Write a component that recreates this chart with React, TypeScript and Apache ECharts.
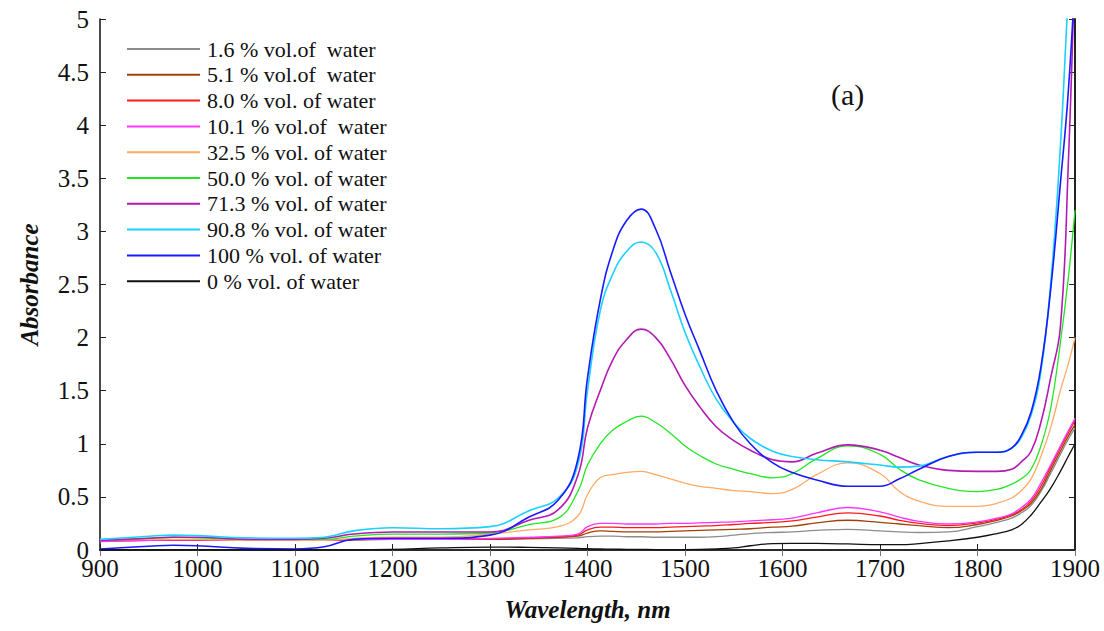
import { useEffect, useRef } from "react";
import * as echarts from "echarts";

const wavelengths = [900, 950, 975, 1000, 1050, 1100, 1130, 1160, 1200, 1250, 1300, 1340, 1370, 1390, 1400, 1413, 1426, 1440, 1455, 1470, 1485, 1500, 1515, 1532, 1550, 1567, 1590, 1610, 1635, 1667, 1700, 1720, 1740, 1770, 1800, 1820, 1835, 1845, 1855, 1865, 1875, 1885, 1893, 1900];

const seriesNames = [
  "1.6 % vol.of  water",
  "5.1 % vol.of  water",
  "8.0 % vol. of water",
  "10.1 % vol.of  water",
  "32.5 % vol. of water",
  "50.0 % vol. of water",
  "71.3 % vol. of water",
  "90.8 % vol. of water",
  "100 % vol. of water",
  "0 % vol. of water",
];

const seriesColors = ["#8c8c8c", "#a0400a", "#ff1a1a", "#ff33ff", "#ffaa66", "#22e622", "#b31ab3", "#1ad1ff", "#1a1aff", "#111111"];

const water1_6 = [0.085, 0.09, 0.09, 0.09, 0.09, 0.09, 0.09, 0.095, 0.1, 0.1, 0.1, 0.105, 0.11, 0.115, 0.125, 0.13, 0.13, 0.125, 0.125, 0.12, 0.12, 0.12, 0.12, 0.125, 0.14, 0.155, 0.165, 0.17, 0.185, 0.195, 0.18, 0.17, 0.165, 0.17, 0.22, 0.26, 0.3, 0.35, 0.42, 0.55, 0.72, 0.9, 1.04, 1.15];
const water5_1 = [0.085, 0.09, 0.09, 0.09, 0.09, 0.09, 0.09, 0.095, 0.1, 0.1, 0.1, 0.11, 0.12, 0.13, 0.16, 0.18, 0.175, 0.17, 0.17, 0.17, 0.175, 0.18, 0.185, 0.19, 0.195, 0.2, 0.215, 0.225, 0.255, 0.28, 0.26, 0.245, 0.23, 0.21, 0.24, 0.28, 0.32, 0.37, 0.44, 0.57, 0.75, 0.93, 1.07, 1.18];
const water8_0 = [0.085, 0.09, 0.09, 0.09, 0.09, 0.09, 0.09, 0.1, 0.1, 0.1, 0.105, 0.115, 0.125, 0.14, 0.19, 0.215, 0.215, 0.21, 0.21, 0.21, 0.215, 0.22, 0.225, 0.23, 0.24, 0.25, 0.26, 0.275, 0.31, 0.35, 0.32, 0.28, 0.25, 0.23, 0.255, 0.29, 0.33, 0.38, 0.46, 0.6, 0.78, 0.96, 1.1, 1.22];
const water10_1 = [0.08, 0.09, 0.095, 0.095, 0.09, 0.09, 0.09, 0.1, 0.1, 0.1, 0.11, 0.12, 0.13, 0.15, 0.22, 0.25, 0.25, 0.245, 0.245, 0.245, 0.25, 0.25, 0.255, 0.26, 0.265, 0.275, 0.285, 0.3, 0.35, 0.4, 0.36, 0.31, 0.27, 0.245, 0.265, 0.3, 0.34, 0.4, 0.48, 0.63, 0.8, 0.98, 1.12, 1.24];
const water32_5 = [0.09, 0.1, 0.1, 0.1, 0.09, 0.09, 0.09, 0.11, 0.12, 0.12, 0.15, 0.19, 0.22, 0.32, 0.52, 0.68, 0.71, 0.73, 0.74, 0.71, 0.67, 0.63, 0.6, 0.58, 0.56, 0.55, 0.53, 0.57, 0.71, 0.82, 0.72, 0.55, 0.46, 0.41, 0.41, 0.44, 0.49, 0.56, 0.67, 0.88, 1.15, 1.5, 1.75, 2.0];
const water50_0 = [0.09, 0.11, 0.12, 0.115, 0.1, 0.1, 0.1, 0.13, 0.15, 0.15, 0.16, 0.24, 0.3, 0.55, 0.8, 1.0, 1.13, 1.21, 1.26, 1.2, 1.1, 0.98, 0.89, 0.81, 0.76, 0.72, 0.68, 0.72, 0.86, 0.98, 0.9, 0.76, 0.66, 0.58, 0.55, 0.57, 0.62, 0.67, 0.76, 0.98, 1.33, 1.95, 2.55, 3.2];
const water71_3 = [0.09, 0.11, 0.12, 0.12, 0.1, 0.1, 0.11, 0.15, 0.17, 0.17, 0.17, 0.28, 0.38, 0.7, 1.15, 1.5, 1.79, 1.98, 2.08, 2.0, 1.8, 1.55, 1.35, 1.16, 1.03, 0.94, 0.85, 0.83, 0.91, 0.99, 0.94, 0.87, 0.8, 0.75, 0.74, 0.74, 0.76, 0.83, 0.93, 1.2, 1.62, 2.1, 3.6, 5.6];
const water90_8 = [0.1, 0.13, 0.14, 0.135, 0.115, 0.11, 0.12, 0.18, 0.21, 0.2, 0.22, 0.37, 0.49, 0.8, 1.5, 2.25, 2.6, 2.81, 2.9, 2.8, 2.45, 2.05, 1.73, 1.42, 1.2, 1.05, 0.93, 0.88, 0.85, 0.83, 0.8, 0.78, 0.79, 0.88, 0.92, 0.92, 0.96, 1.06, 1.27, 1.68, 2.5, 3.8, 5.2, 6.2];
const water100 = [0.01, 0.035, 0.045, 0.04, 0.015, 0.01, 0.03, 0.1, 0.11, 0.11, 0.14, 0.31, 0.47, 0.85, 1.62, 2.35, 2.82, 3.1, 3.21, 3.02, 2.62, 2.22, 1.88, 1.5, 1.2, 1.0, 0.82, 0.73, 0.66, 0.6, 0.6, 0.67, 0.76, 0.88, 0.92, 0.92, 0.96, 1.08, 1.3, 1.72, 2.45, 3.45, 4.3, 5.4];
const water0 = [0, 0, 0, 0, 0, 0, 0, 0, 0.005, 0.02, 0.028, 0.025, 0.02, 0.015, 0.012, 0.01, 0.008, 0.006, 0.005, 0.004, 0.004, 0.004, 0.005, 0.01, 0.02, 0.04, 0.06, 0.063, 0.062, 0.057, 0.05, 0.05, 0.06, 0.085, 0.12, 0.155, 0.19, 0.24, 0.33, 0.45, 0.58, 0.74, 0.88, 1.0];

const seriesValues = [water1_6, water5_1, water8_0, water10_1, water32_5, water50_0, water71_3, water90_8, water100, water0];

const FONT = "'Liberation Serif', 'Times New Roman', Times, serif";

export default function App() {
  const ref = useRef<HTMLDivElement>(null);
  useEffect(() => {
    const chart = echarts.init(ref.current!, null, { renderer: "svg" });
    const tickStyle = { show: true, inside: true, length: 6, lineStyle: { color: "#222", width: 1 } };
    chart.setOption({
      animation: false,
      backgroundColor: "#ffffff",
      textStyle: { fontFamily: FONT },
      grid: { left: 100, right: 29, top: 19, bottom: 81, containLabel: false },
      legend: {
        orient: "vertical",
        left: 127,
        top: 38,
        padding: 0,
        icon: "rect",
        itemWidth: 73,
        itemHeight: 2,
        itemGap: 3.8,
        data: seriesNames,
        textStyle: { fontFamily: FONT, fontSize: 22, color: "#111", lineHeight: 22, padding: [0, 0, 0, 2] },
      },
      xAxis: [
        {
          type: "value",
          min: 900,
          max: 1900,
          interval: 100,
          name: "Wavelength, nm",
          nameLocation: "middle",
          nameGap: 47,
          nameTextStyle: { fontFamily: FONT, fontSize: 25, fontWeight: "bold", fontStyle: "italic", color: "#111" },
          axisLine: { show: true, lineStyle: { color: "#111", width: 2 } },
          axisTick: tickStyle,
          axisLabel: { fontFamily: FONT, fontSize: 25, lineHeight: 18, color: "#111", margin: 9, formatter: (v: number) => String(v) },
          splitLine: { show: false },
        },
        {
          type: "value",
          position: "top",
          min: 900,
          max: 1900,
          interval: 100,
          axisLine: { show: true, lineStyle: { color: "#333", width: 1.5 } },
          axisTick: { ...tickStyle, lineStyle: { color: "#777", width: 1 } },
          axisLabel: { show: false },
          splitLine: { show: false },
        },
      ],
      yAxis: [
        {
          type: "value",
          min: 0,
          max: 5,
          interval: 0.5,
          name: "Absorbance",
          nameLocation: "middle",
          nameGap: 58,
          nameTextStyle: { fontFamily: FONT, fontSize: 25, fontWeight: "bold", fontStyle: "italic", color: "#111" },
          axisLine: { show: true, lineStyle: { color: "#111", width: 1.5 } },
          axisTick: tickStyle,
          axisLabel: { fontFamily: FONT, fontSize: 25, lineHeight: 18, color: "#111", margin: 11, formatter: (v: number) => String(v) },
          splitLine: { show: false },
        },
        {
          type: "value",
          position: "right",
          min: 0,
          max: 5,
          interval: 0.5,
          axisLine: { show: true, lineStyle: { color: "#222", width: 2 } },
          axisTick: tickStyle,
          axisLabel: { show: false },
          splitLine: { show: false },
        },
      ],
      graphic: [
        {
          type: "text",
          left: 831,
          top: 79,
          style: { text: "(a)", fontFamily: FONT, fontSize: 30, fill: "#111" },
        },
      ],
      series: seriesNames.map((name, i) => ({
        name,
        type: "line",
        xAxisIndex: 0,
        yAxisIndex: 0,
        smooth: 0.45,
        showSymbol: false,
        symbol: "none",
        clip: true,
        color: seriesColors[i],
        lineStyle: { color: seriesColors[i], width: i >= 6 && i <= 8 ? 1.6 : 1.3 },
        data: wavelengths.map((w, j) => [w, seriesValues[i][j]]),
      })),
    });
    return () => chart.dispose();
  }, []);
  return <div ref={ref} style={{ position: "fixed", left: 0, top: 0, width: 1104, height: 631 }} />;
}
